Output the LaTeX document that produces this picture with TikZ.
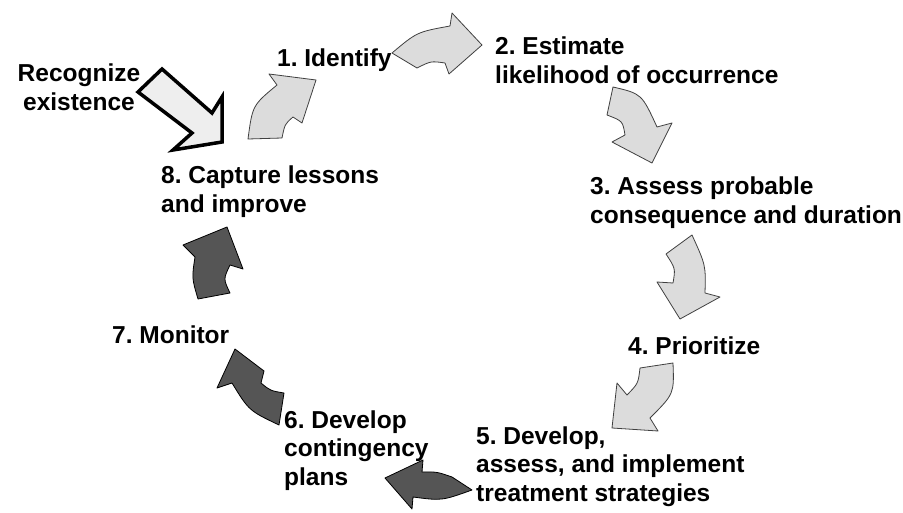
\documentclass[tikz,border=0pt]{standalone}
\usepackage{fontspec}
\setmainfont{Liberation Sans}
\frenchspacing
\begin{document}
\begin{tikzpicture}[x=1pt,y=-1pt,
  lbl/.style={inner sep=0pt,align=left,anchor=base west,
    font=\bfseries\fontsize{24.5}{28.5}\selectfont},
  lightarrow/.style={fill=arrowlight,draw=black!75,line width=0.8pt,line join=round},
  darkarrow/.style={fill=arrowdark,draw=black,line width=0.8pt,line join=round},
  entryarrow/.style={fill=entryfill,draw=black,line width=3.5pt,line join=miter}]
\definecolor{arrowlight}{HTML}{DCDCDC}
\definecolor{arrowdark}{HTML}{555555}
\definecolor{entryfill}{HTML}{EEEEEE}
\useasboundingbox[fill=white] (0,0) rectangle (903,513);

% step labels (the base anchor sits on the last line)
\node[lbl,align=center,anchor=base] (recog) at (79,110.5) {Recognize\\existence};
\node[lbl] (s1) at (277,67) {1. Identify};
\node[lbl] (s2) at (495,83.5) {2. Estimate\\likelihood of occurrence};
\node[lbl] (s3) at (590,223.5) {3. Assess probable\\consequence and duration};
\node[lbl] (s4) at (628,354) {4. Prioritize};
\node[lbl] (s5) at (476,501) {5. Develop,\\assess, and implement\\treatment strategies};
\node[lbl] (s6) at (284,485) {6. Develop\\contingency\\plans};
\node[lbl] (s7) at (112,343) {7. Monitor};
\node[lbl] (s8) at (161,212.5) {8. Capture lessons\\and improve};

% entry arrow
\draw[entryarrow] (162,69) -- (212,113) -- (222,97) -- (222,142) -- (173,150) -- (192,133) -- (138,92) -- cycle;

% curved arrows of the cycle
% 1 -> 2
\draw[lightarrow] (392,53) .. controls (417,32) .. (450,26) -- (452,13) -- (482,45) -- (449,74) -- (445,63) .. controls (431,61) .. (417,68) -- cycle;
% 2 -> 3
\draw[lightarrow] (613,87) .. controls (641.7,93.7) .. (657,127) -- (672,123) -- (652,163) -- (612,142) -- (625,135) .. controls (622.7,121) .. (607,115) -- cycle;
% 3 -> 4
\draw[lightarrow] (692,235) .. controls (705.8,265.3) .. (705,293) -- (720,297) -- (680,319) -- (657,282) -- (673,283) .. controls (675.5,268.5) .. (666,254) -- cycle;
% 4 -> 5
\draw[lightarrow] (673,363) .. controls (674.2,393.8) .. (650,418) -- (658,431) -- (612,428) -- (617,383) -- (627,395) .. controls (638.2,383.5) .. (640,368) -- cycle;
% 5 -> 6
\draw[darkarrow] (472,490) .. controls (441.8,500.8) .. (413,497) -- (412,509) -- (385,478) -- (423,460) -- (422,472) .. controls (437,471.8) .. (452,477) -- cycle;
% 6 -> 7
\draw[darkarrow] (279,425) .. controls (249,410.7) .. (232,383) -- (217,388) -- (235,349) -- (264,371) -- (261,383) .. controls (270.3,390.7) .. (284,393) -- cycle;
% 7 -> 8
\draw[darkarrow] (198,299) .. controls (191.8,278) .. (195,257) -- (183,245) -- (227,227) -- (243,269) -- (230,265) .. controls (223.3,279) .. (230,293) -- cycle;
% 8 -> 1
\draw[lightarrow] (248,139) .. controls (252.5,105.3) .. (277,85) -- (269,74) -- (316,80) -- (302,123) -- (293,117) .. controls (284.8,124.2) .. (282,138) -- cycle;
\end{tikzpicture}
\end{document}
